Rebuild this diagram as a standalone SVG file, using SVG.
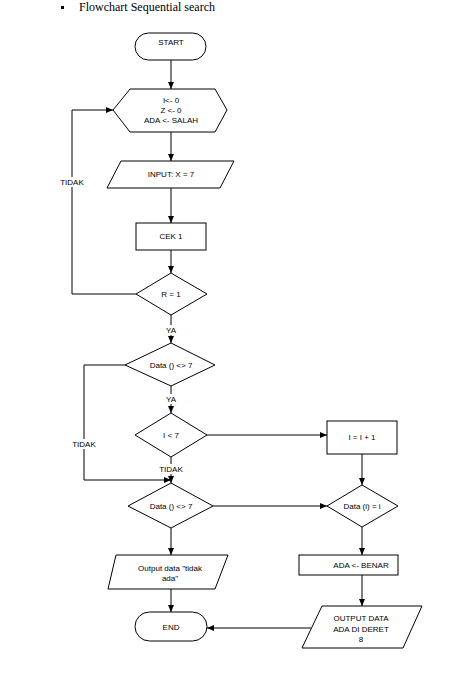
<svg xmlns="http://www.w3.org/2000/svg" width="455" height="676" viewBox="0 0 455 676">
<style>
.s{fill:#fff;stroke:#000;stroke-width:1}
.t{font-family:"Liberation Sans",Arial,sans-serif;font-size:8px;fill:#000;text-anchor:middle}
.c{fill:none;stroke:#000;stroke-width:1}
.lb{fill:#fff;stroke:none}
</style>
<defs>
<marker id="ah" markerWidth="7" markerHeight="6" refX="7" refY="3" orient="auto" markerUnits="userSpaceOnUse">
<path d="M0,0 L7,3 L0,6 Z" fill="#000"/>
</marker>
</defs>
<rect width="455" height="676" fill="#fff"/>
<rect x="61" y="6" width="3" height="3" fill="#000"/>
<text x="79" y="11" font-family="'Liberation Serif','Times New Roman',serif" font-size="12" fill="#000">Flowchart Sequential search</text>

<g id="connectors">
<path class="c" d="M171,60 V89" marker-end="url(#ah)"/>
<path class="c" d="M171,132 V161" marker-end="url(#ah)"/>
<path class="c" d="M171,188 V223" marker-end="url(#ah)"/>
<path class="c" d="M171,250 V273" marker-end="url(#ah)"/>
<path class="c" d="M136,294 H72 V110 H113" marker-end="url(#ah)"/>
<path class="c" d="M171,315 V343" marker-end="url(#ah)"/>
<path class="c" d="M125,365 H84 V480 H171" marker-end="url(#ah)"/>
<path class="c" d="M171,386 V413" marker-end="url(#ah)"/>
<path class="c" d="M207,435 H327" marker-end="url(#ah)"/>
<path class="c" d="M171,457 V483" marker-end="url(#ah)"/>
<path class="c" d="M213,506 H327" marker-end="url(#ah)"/>
<path class="c" d="M362,454 V485" marker-end="url(#ah)"/>
<path class="c" d="M362,527 V555" marker-end="url(#ah)"/>
<path class="c" d="M362,575 V606" marker-end="url(#ah)"/>
<path class="c" d="M171,528 V555" marker-end="url(#ah)"/>
<path class="c" d="M171,589 V612" marker-end="url(#ah)"/>
<path class="c" d="M311,628 H207" marker-end="url(#ah)"/>
<rect class="lb" x="58" y="177" width="28" height="10"/>
<text class="t" x="72" y="185">TIDAK</text>
<rect class="lb" x="70" y="439" width="28" height="10"/>
<text class="t" x="84" y="447">TIDAK</text>
<rect class="lb" x="164" y="325" width="14" height="10"/>
<text class="t" x="171" y="333">YA</text>
<rect class="lb" x="164" y="394" width="14" height="10"/>
<text class="t" x="171" y="402">YA</text>
<rect class="lb" x="157" y="464" width="28" height="10"/>
<text class="t" x="171" y="472">TIDAK</text>
</g>

<g id="start">
<rect class="s" x="135" y="33" width="71" height="27" rx="13.5"/>
<text class="t" x="171" y="45">START</text>
</g>
<g id="init">
<polygon class="s" points="113,110 130,89 215,89 227,110 215,132 130,132"/>
<text class="t" x="171" y="103">I&lt;- 0</text>
<text class="t" x="171" y="113">Z &lt;- 0</text>
<text class="t" x="171" y="123">ADA &lt;- SALAH</text>
</g>
<g id="input">
<polygon class="s" points="121,161 234,161 220,188 107,188"/>
<text class="t" x="171" y="177">INPUT: X = 7</text>
</g>
<g id="cek">
<rect class="s" x="136" y="223" width="70" height="27"/>
<text class="t" x="171" y="239">CEK 1</text>
</g>
<g id="r1">
<polygon class="s" points="171,273 207,294 171,315 136,294"/>
<text class="t" x="171" y="297">R = 1</text>
</g>
<g id="data1">
<polygon class="s" points="171,343 215,365 171,386 125,365"/>
<text class="t" x="171" y="368">Data () &lt;&gt; 7</text>
</g>
<g id="ilt7">
<polygon class="s" points="171,413 207,435 171,457 135,435"/>
<text class="t" x="171" y="438">I &lt; 7</text>
</g>
<g id="inc">
<rect class="s" x="327" y="421" width="70" height="33"/>
<text class="t" x="362" y="440">I = I + 1</text>
</g>
<g id="data2">
<polygon class="s" points="171,483 213,506 171,528 128,506"/>
<text class="t" x="171" y="509">Data () &lt;&gt; 7</text>
</g>
<g id="data3">
<polygon class="s" points="362,485 398,506 362,527 327,506"/>
<text class="t" x="362" y="509">Data (i) = i</text>
</g>
<g id="benar">
<rect class="s" x="299" y="555" width="99" height="20"/>
<text class="t" x="361" y="568">ADA &lt;- BENAR</text>
</g>
<g id="outtidak">
<polygon class="s" points="116,555 228,555 215,589 108,589"/>
<text class="t" x="170" y="571">Output data "tidak</text>
<text class="t" x="170" y="581">ada"</text>
</g>
<g id="outada">
<polygon class="s" points="322,606 422,606 403,648 302,648"/>
<text class="t" x="361" y="621">OUTPUT DATA</text>
<text class="t" x="361" y="632">ADA DI DERET</text>
<text class="t" x="361" y="642">8</text>
</g>
<g id="end">
<rect class="s" x="135" y="612" width="72" height="29" rx="14.5"/>
<text class="t" x="171" y="630">END</text>
</g>
</svg>
